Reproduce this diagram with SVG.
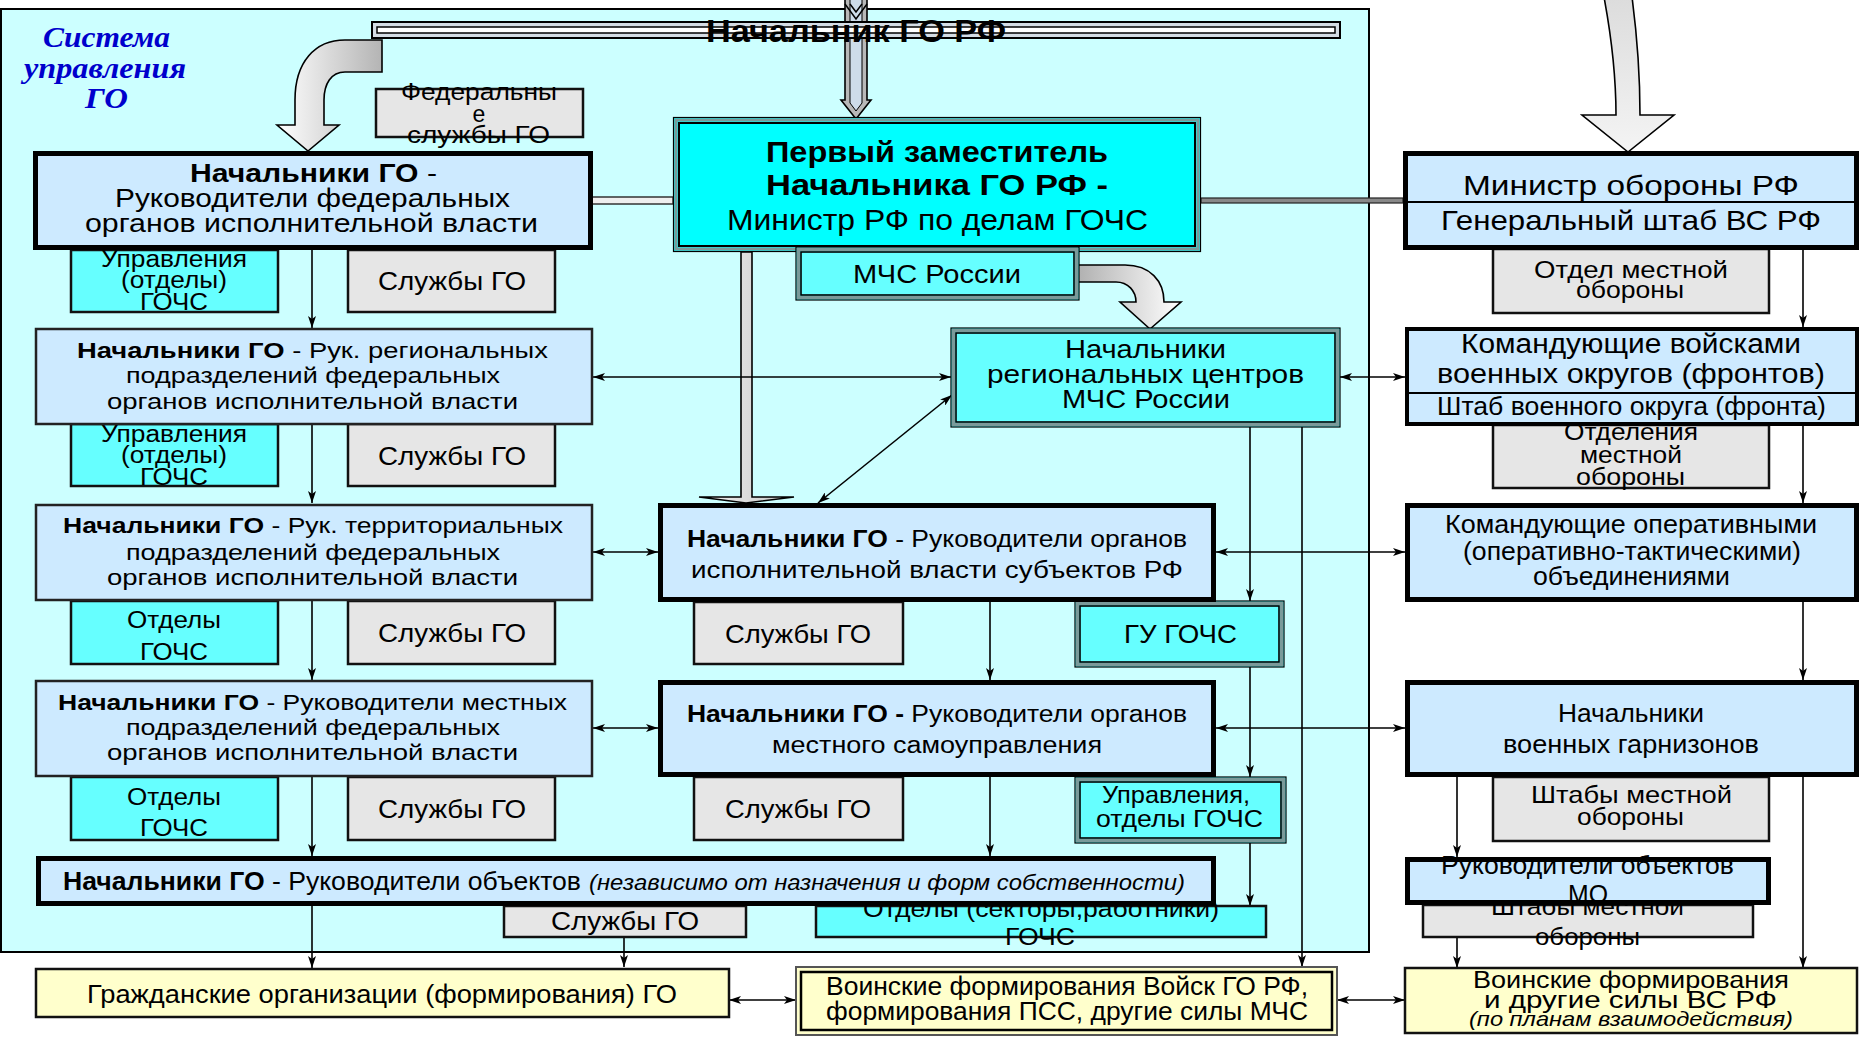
<svg xmlns="http://www.w3.org/2000/svg" width="1864" height="1038" viewBox="0 0 1864 1038" xml:space="preserve">
<style>
.t{font-family:"Liberation Sans",Arial,sans-serif;fill:#000}
.b{font-weight:bold}
.i{font-style:italic}
.sys{font-family:"Liberation Serif","Times New Roman",serif;font-weight:bold;font-style:italic;fill:#0000cc;font-size:30px}
.lb{fill:#cdeaff}
.thick{stroke:#000;stroke-width:5}
.thin{stroke:#222;stroke-width:2.5}
.gray{fill:#e6e6e6;stroke:#111;stroke-width:2.5}
.cy{fill:#66ffff;stroke:#111;stroke-width:2.5}
.cyd{fill:#66ffff;stroke:#000;stroke-width:1.2}
.mid{fill:none;stroke:#7a9a9a;stroke-width:3}
.inner{fill:none;stroke:#000;stroke-width:1.6}
.yel{fill:#ffffcc;stroke:#111;stroke-width:2.5}
.ln{stroke:#000;stroke-width:1.6;fill:none}
.one{marker-end:url(#ah)}
.two{marker-start:url(#ah);marker-end:url(#ah)}
.blk{stroke:#000;stroke-width:1.6}
</style>
<defs>
<marker id="ah" viewBox="0 0 12 8" refX="12" refY="4" markerWidth="12" markerHeight="8" markerUnits="userSpaceOnUse" orient="auto-start-reverse"><path d="M0,0 L12,4 L0,8 L3,4 Z" fill="#000"/></marker>
<linearGradient id="gL" x1="0" y1="0" x2="1" y2="0"><stop offset="0" stop-color="#ffffff"/><stop offset="1" stop-color="#b4b4b4"/></linearGradient>
<linearGradient id="gR" x1="0" y1="0" x2="1" y2="0"><stop offset="0" stop-color="#b0b0b0"/><stop offset="1" stop-color="#ffffff"/></linearGradient>
<linearGradient id="gV" x1="0" y1="0" x2="1" y2="0"><stop offset="0" stop-color="#f4f4f4"/><stop offset="1" stop-color="#c4c4c4"/></linearGradient>
<linearGradient id="gT" x1="0" y1="0" x2="0" y2="1"><stop offset="0" stop-color="#dcdcdc"/><stop offset="1" stop-color="#f4f4f4"/></linearGradient>
</defs>

<g id="panel"><rect x="1" y="9" width="1368" height="943" fill="#ccffff" stroke="#000" stroke-width="2"/></g>

<g id="system-title">
<text class="sys" x="43" y="47" textLength="127" lengthAdjust="spacingAndGlyphs">Система</text>
<text class="sys" x="24" y="78" textLength="162" lengthAdjust="spacingAndGlyphs">управления</text>
<text class="sys" x="85" y="108" textLength="43" lengthAdjust="spacingAndGlyphs">ГО</text>
</g>

<g id="connectors">
<path class="blk" fill="url(#gL)" d="M382,40 L345,40 C315,40 295,62 295,100 L295,125 L277,125 L308,151 L339,125 L324,125 L324,100 C324,84 331,72 345,72 L382,72 Z"/>
<path class="blk" fill="url(#gR)" d="M1077,265 L1125,265 C1150,265 1164,281 1164,302 L1181,302 L1150,329 L1120,302 L1136,302 C1136,291 1128,282 1116,282 L1077,282 Z"/>
<path class="blk" fill="url(#gT)" d="M1604,-3 C1612,40 1616,80 1616,115 L1582,115 L1628,152 L1674,115 L1640,115 C1640,75 1637,35 1632,-3 Z"/>
<path class="blk" fill="url(#gV)" d="M741,252 L741,497 L699,497 L746,503 L794,497 L752,497 L752,252 Z"/>
<path class="blk" fill="#b8b8b8" d="M845,-3 L845,100 L841,100 L856,119 L871,100 L867,100 L867,-3 Z"/>
<path stroke="#000" stroke-width="1" fill="#cddcea" d="M850,-3 L850,103 L856,111 L862,103 L862,-3 Z"/>
<path stroke="#000" stroke-width="1.5" fill="none" d="M845,4 L856,19 L867,4 M850,4 L856,12 L862,4"/>
<rect x="591" y="197" width="82" height="7" fill="#eeeeee" stroke="#333" stroke-width="1.5"/>
<rect x="1201" y="198" width="202" height="5" fill="#888" stroke="#222" stroke-width="1.2"/>
<line class="ln one" x1="312" y1="250" x2="312" y2="328"/>
<line class="ln one" x1="312" y1="425" x2="312" y2="503"/>
<line class="ln one" x1="312" y1="601" x2="312" y2="680"/>
<line class="ln one" x1="312" y1="777" x2="312" y2="856"/>
<line class="ln one" x1="312" y1="906" x2="312" y2="968"/>
<line class="ln one" x1="990" y1="602" x2="990" y2="680"/>
<line class="ln one" x1="990" y1="777" x2="990" y2="856"/>
<line class="ln one" x1="624" y1="937" x2="624" y2="967"/>
<line class="ln one" x1="1250" y1="427" x2="1250" y2="601"/>
<line class="ln one" x1="1250" y1="667" x2="1250" y2="777"/>
<line class="ln one" x1="1250" y1="843" x2="1250" y2="906"/>
<line class="ln one" x1="1302" y1="427" x2="1302" y2="967"/>
<line class="ln one" x1="1803" y1="250" x2="1803" y2="327"/>
<line class="ln one" x1="1803" y1="426" x2="1803" y2="503"/>
<line class="ln one" x1="1803" y1="602" x2="1803" y2="680"/>
<line class="ln one" x1="1803" y1="777" x2="1803" y2="968"/>
<line class="ln one" x1="1457" y1="777" x2="1457" y2="857"/>
<line class="ln one" x1="1457" y1="937" x2="1457" y2="968"/>
<line class="ln two" x1="593" y1="377" x2="951" y2="377"/>
<line class="ln two" x1="1340" y1="377" x2="1405" y2="377"/>
<line class="ln two" x1="593" y1="552" x2="658" y2="552"/>
<line class="ln two" x1="1216" y1="552" x2="1405" y2="552"/>
<line class="ln two" x1="593" y1="728" x2="658" y2="728"/>
<line class="ln two" x1="1216" y1="728" x2="1405" y2="728"/>
<line class="ln two" x1="729" y1="1000" x2="796" y2="1000"/>
<line class="ln two" x1="1337" y1="1000" x2="1405" y2="1000"/>
<line class="ln two" x1="818" y1="503" x2="952" y2="395"/>
</g>

<g id="chief-go-rf">
<rect x="372" y="22" width="968" height="16" fill="#d4dce4" stroke="#000" stroke-width="2"/>
<rect x="377" y="27" width="958" height="6" fill="#ffffff" stroke="#000" stroke-width="1.5"/>
<text class="t b" x="706" y="42" font-size="32" textLength="300" lengthAdjust="spacingAndGlyphs">Начальник ГО РФ</text>
</g>

<g id="fed-services">
<rect class="gray" x="376" y="89" width="207" height="48"/>
<text class="t" x="401" y="100" font-size="23" textLength="156" lengthAdjust="spacingAndGlyphs">Федеральны</text>
<text class="t" x="479" y="122" font-size="23" text-anchor="middle">е</text>
<text class="t" x="407" y="143" font-size="23" textLength="143" lengthAdjust="spacingAndGlyphs">службы  ГО</text>
</g>

<g id="upr1"><rect class="cy" x="71" y="250" width="207" height="62"/>
<text class="t" x="101" y="267" font-size="23" textLength="146" lengthAdjust="spacingAndGlyphs">Управления</text>
<text class="t" x="121" y="288" font-size="23" textLength="106" lengthAdjust="spacingAndGlyphs">(отделы)</text>
<text class="t" x="140" y="310" font-size="23" textLength="68" lengthAdjust="spacingAndGlyphs">ГОЧС</text></g>
<g id="sl1"><rect class="gray" x="348" y="250" width="207" height="62"/>
<text class="t" x="378" y="290" font-size="25" textLength="148" lengthAdjust="spacingAndGlyphs">Службы  ГО</text></g>

<g id="upr2"><rect class="cy" x="71" y="424" width="207" height="62"/>
<text class="t" x="101" y="442" font-size="23" textLength="146" lengthAdjust="spacingAndGlyphs">Управления</text>
<text class="t" x="121" y="463" font-size="23" textLength="106" lengthAdjust="spacingAndGlyphs">(отделы)</text>
<text class="t" x="140" y="485" font-size="23" textLength="68" lengthAdjust="spacingAndGlyphs">ГОЧС</text></g>
<g id="sl2"><rect class="gray" x="348" y="424" width="207" height="62"/>
<text class="t" x="378" y="465" font-size="25" textLength="148" lengthAdjust="spacingAndGlyphs">Службы  ГО</text></g>

<g id="otd3"><rect class="cy" x="71" y="601" width="207" height="63"/>
<text class="t" x="127" y="628" font-size="23" textLength="94" lengthAdjust="spacingAndGlyphs">Отделы</text>
<text class="t" x="140" y="660" font-size="23" textLength="68" lengthAdjust="spacingAndGlyphs">ГОЧС</text></g>
<g id="sl3"><rect class="gray" x="348" y="601" width="207" height="63"/>
<text class="t" x="378" y="642" font-size="25" textLength="148" lengthAdjust="spacingAndGlyphs">Службы  ГО</text></g>

<g id="otd4"><rect class="cy" x="71" y="777" width="207" height="63"/>
<text class="t" x="127" y="805" font-size="23" textLength="94" lengthAdjust="spacingAndGlyphs">Отделы</text>
<text class="t" x="140" y="836" font-size="23" textLength="68" lengthAdjust="spacingAndGlyphs">ГОЧС</text></g>
<g id="sl4"><rect class="gray" x="348" y="777" width="207" height="63"/>
<text class="t" x="378" y="818" font-size="25" textLength="148" lengthAdjust="spacingAndGlyphs">Службы  ГО</text></g>

<g id="sl5"><rect class="gray" x="504" y="906" width="242" height="31"/>
<text class="t" x="551" y="930" font-size="25" textLength="148" lengthAdjust="spacingAndGlyphs">Службы  ГО</text></g>
<g id="otd5"><rect class="cy" x="816" y="906" width="450" height="31"/>
<text class="t" x="863" y="917" font-size="23" textLength="356" lengthAdjust="spacingAndGlyphs">Отделы (секторы,работники)</text>
<text class="t" x="1005" y="945" font-size="23" textLength="70" lengthAdjust="spacingAndGlyphs">ГОЧС</text></g>

<g id="slm1"><rect class="gray" x="694" y="602" width="209" height="62"/>
<text class="t" x="725" y="643" font-size="25" textLength="146" lengthAdjust="spacingAndGlyphs">Службы  ГО</text></g>
<g id="slm2"><rect class="gray" x="694" y="777" width="209" height="63"/>
<text class="t" x="725" y="818" font-size="25" textLength="146" lengthAdjust="spacingAndGlyphs">Службы  ГО</text></g>

<g id="gu-gochs"><rect class="cyd" x="1075" y="601" width="209" height="66"/><rect class="mid" x="1077.5" y="603.5" width="204" height="61"/><rect class="inner" x="1080" y="606" width="199" height="56"/>
<text class="t" x="1124" y="643" font-size="25" textLength="113" lengthAdjust="spacingAndGlyphs">ГУ  ГОЧС</text></g>
<g id="upr-otd"><rect class="cyd" x="1075" y="777" width="211" height="66"/><rect class="mid" x="1077.5" y="779.5" width="206" height="61"/><rect class="inner" x="1080" y="782" width="201" height="56"/>
<text class="t" x="1102" y="803" font-size="24" textLength="148" lengthAdjust="spacingAndGlyphs">Управления,</text>
<text class="t" x="1096" y="827" font-size="24" textLength="167" lengthAdjust="spacingAndGlyphs">отделы ГОЧС</text></g>

<g id="otdel-mo"><rect class="gray" x="1493" y="249" width="276" height="64"/>
<text class="t" x="1534" y="278" font-size="24" textLength="194" lengthAdjust="spacingAndGlyphs">Отдел  местной</text>
<text class="t" x="1576" y="298" font-size="24" textLength="108" lengthAdjust="spacingAndGlyphs">обороны</text></g>
<g id="otdelenia-mo"><rect class="gray" x="1493" y="425" width="276" height="63"/>
<text class="t" x="1564" y="440" font-size="24" textLength="134" lengthAdjust="spacingAndGlyphs">Отделения</text>
<text class="t" x="1580" y="463" font-size="24" textLength="102" lengthAdjust="spacingAndGlyphs">местной</text>
<text class="t" x="1576" y="485" font-size="24" textLength="109" lengthAdjust="spacingAndGlyphs">обороны</text></g>
<g id="shtaby-mo"><rect class="gray" x="1493" y="777" width="276" height="64"/>
<text class="t" x="1531" y="803" font-size="24" textLength="201" lengthAdjust="spacingAndGlyphs">Штабы  местной</text>
<text class="t" x="1577" y="825" font-size="24" textLength="107" lengthAdjust="spacingAndGlyphs">обороны</text></g>
<g id="shtaby-mo2"><rect class="gray" x="1423" y="905" width="330" height="32"/>
<text class="t" x="1491" y="915" font-size="24" textLength="193" lengthAdjust="spacingAndGlyphs">Штабы местной</text>
<text class="t" x="1535" y="945" font-size="24" textLength="105" lengthAdjust="spacingAndGlyphs">обороны</text></g>

<g id="l1"><rect class="lb thick" x="35.5" y="153.5" width="555" height="94"/>
<text class="t" x="190" y="182" font-size="25" textLength="247" lengthAdjust="spacingAndGlyphs"><tspan class="b">Начальники  ГО</tspan> -</text>
<text class="t" x="115" y="207" font-size="25" textLength="395" lengthAdjust="spacingAndGlyphs">Руководители  федеральных</text>
<text class="t" x="85" y="232" font-size="25" textLength="453" lengthAdjust="spacingAndGlyphs">органов  исполнительной  власти</text></g>

<g id="l2"><rect class="lb thin" x="36" y="329" width="556" height="95"/>
<text class="t" x="77" y="358" font-size="22" textLength="471" lengthAdjust="spacingAndGlyphs"><tspan class="b">Начальники ГО</tspan>  -  Рук. региональных</text>
<text class="t" x="126" y="383" font-size="22" textLength="374" lengthAdjust="spacingAndGlyphs">подразделений  федеральных</text>
<text class="t" x="107" y="409" font-size="22" textLength="411" lengthAdjust="spacingAndGlyphs">органов  исполнительной  власти</text></g>

<g id="l3"><rect class="lb thin" x="36" y="505" width="556" height="95"/>
<text class="t" x="63" y="533" font-size="22" textLength="500" lengthAdjust="spacingAndGlyphs"><tspan class="b">Начальники ГО</tspan> - Рук. территориальных</text>
<text class="t" x="126" y="560" font-size="22" textLength="374" lengthAdjust="spacingAndGlyphs">подразделений  федеральных</text>
<text class="t" x="107" y="585" font-size="22" textLength="411" lengthAdjust="spacingAndGlyphs">органов  исполнительной  власти</text></g>

<g id="l4"><rect class="lb thin" x="36" y="681" width="556" height="95"/>
<text class="t" x="58" y="710" font-size="22" textLength="509" lengthAdjust="spacingAndGlyphs"><tspan class="b">Начальники ГО</tspan> - Руководители местных</text>
<text class="t" x="126" y="735" font-size="22" textLength="374" lengthAdjust="spacingAndGlyphs">подразделений  федеральных</text>
<text class="t" x="107" y="760" font-size="22" textLength="411" lengthAdjust="spacingAndGlyphs">органов  исполнительной  власти</text></g>

<g id="l5"><rect class="lb thick" x="38.5" y="858.5" width="1175" height="45"/>
<text class="t" x="63" y="890" font-size="25" textLength="518" lengthAdjust="spacingAndGlyphs"><tspan class="b">Начальники ГО</tspan> - Руководители объектов</text>
<text class="t i" x="589" y="890" font-size="22" textLength="596" lengthAdjust="spacingAndGlyphs">(независимо от назначения и форм собственности)</text></g>

<g id="civil"><rect class="yel" x="36" y="969" width="693" height="48"/>
<text class="t" x="87" y="1003" font-size="25" textLength="590" lengthAdjust="spacingAndGlyphs">Гражданские  организации  (формирования)  ГО</text></g>

<g id="first-deputy"><rect x="673.5" y="117.5" width="527" height="134" fill="#00ffff" stroke="#000" stroke-width="1.2"/>
<rect class="mid" x="676" y="120" width="522" height="129"/>
<rect x="679" y="123" width="516" height="123" fill="none" stroke="#000" stroke-width="2"/>
<text class="t b" x="766" y="162" font-size="30" textLength="342" lengthAdjust="spacingAndGlyphs">Первый  заместитель</text>
<text class="t b" x="766" y="195" font-size="30" textLength="342" lengthAdjust="spacingAndGlyphs">Начальника  ГО  РФ  -</text>
<text class="t" x="727" y="230" font-size="30" textLength="421" lengthAdjust="spacingAndGlyphs">Министр РФ по делам ГОЧС</text></g>

<g id="mchs"><rect class="cyd" x="796" y="247" width="283" height="53"/><rect class="mid" x="798.5" y="249.5" width="278" height="48"/><rect class="inner" x="801" y="252" width="273" height="43"/>
<text class="t" x="853" y="283" font-size="26" textLength="168" lengthAdjust="spacingAndGlyphs">МЧС России</text></g>

<g id="regional"><rect class="cyd" x="951" y="328" width="389" height="99"/><rect class="mid" x="953.5" y="330.5" width="384" height="94"/><rect class="inner" x="956" y="333" width="379" height="89"/>
<text class="t" x="1065" y="358" font-size="26" textLength="161" lengthAdjust="spacingAndGlyphs">Начальники</text>
<text class="t" x="987" y="383" font-size="26" textLength="317" lengthAdjust="spacingAndGlyphs">региональных  центров</text>
<text class="t" x="1062" y="408" font-size="26" textLength="168" lengthAdjust="spacingAndGlyphs">МЧС России</text></g>

<g id="subjects"><rect class="lb thick" x="660.5" y="505.5" width="553" height="94"/>
<text class="t" x="687" y="547" font-size="23" textLength="500" lengthAdjust="spacingAndGlyphs"><tspan class="b">Начальники ГО</tspan> - Руководители органов</text>
<text class="t" x="691" y="578" font-size="23" textLength="492" lengthAdjust="spacingAndGlyphs">исполнительной  власти  субъектов  РФ</text></g>

<g id="local"><rect class="lb thick" x="660.5" y="682.5" width="553" height="92"/>
<text class="t" x="687" y="722" font-size="23" textLength="500" lengthAdjust="spacingAndGlyphs"><tspan class="b">Начальники ГО -</tspan> Руководители органов</text>
<text class="t" x="772" y="753" font-size="23" textLength="330" lengthAdjust="spacingAndGlyphs">местного  самоуправления</text></g>

<g id="mchs-forces"><rect x="796" y="967" width="541" height="68" fill="#ffffcc" stroke="#555" stroke-width="2"/><rect x="801" y="972" width="531" height="58" fill="none" stroke="#000" stroke-width="2.5"/>
<text class="t" x="826" y="995" font-size="26" textLength="482" lengthAdjust="spacingAndGlyphs">Воинские формирования Войск ГО РФ,</text>
<text class="t" x="826" y="1020" font-size="26" textLength="482" lengthAdjust="spacingAndGlyphs">формирования ПСС, другие силы МЧС</text></g>

<g id="defense-minister"><rect class="lb thick" x="1405.5" y="153.5" width="451" height="94"/>
<line x1="1408" y1="202" x2="1855" y2="202" stroke="#000" stroke-width="2"/>
<text class="t" x="1463" y="195" font-size="28" textLength="336" lengthAdjust="spacingAndGlyphs">Министр  обороны  РФ</text>
<text class="t" x="1441" y="230" font-size="28" textLength="380" lengthAdjust="spacingAndGlyphs">Генеральный  штаб  ВС  РФ</text></g>

<g id="district"><rect class="lb" x="1407" y="329" width="450" height="95" stroke="#000" stroke-width="4"/>
<line x1="1409" y1="393" x2="1855" y2="393" stroke="#000" stroke-width="2"/>
<text class="t" x="1461" y="353" font-size="27" textLength="340" lengthAdjust="spacingAndGlyphs">Командующие  войсками</text>
<text class="t" x="1437" y="383" font-size="27" textLength="388" lengthAdjust="spacingAndGlyphs">военных  округов  (фронтов)</text>
<text class="t" x="1437" y="415" font-size="25" textLength="389" lengthAdjust="spacingAndGlyphs">Штаб военного округа (фронта)</text></g>

<g id="operational"><rect class="lb thick" x="1407.5" y="505.5" width="449" height="94"/>
<text class="t" x="1445" y="533" font-size="25" textLength="372" lengthAdjust="spacingAndGlyphs">Командующие  оперативными</text>
<text class="t" x="1463" y="560" font-size="25" textLength="338" lengthAdjust="spacingAndGlyphs">(оперативно-тактическими)</text>
<text class="t" x="1533" y="585" font-size="25" textLength="197" lengthAdjust="spacingAndGlyphs">объединениями</text></g>

<g id="garrisons"><rect class="lb thick" x="1407.5" y="682.5" width="449" height="92"/>
<text class="t" x="1558" y="722" font-size="25" textLength="146" lengthAdjust="spacingAndGlyphs">Начальники</text>
<text class="t" x="1503" y="753" font-size="25" textLength="256" lengthAdjust="spacingAndGlyphs">военных  гарнизонов</text></g>

<g id="mo-objects"><rect class="lb thick" x="1407.5" y="859.5" width="361" height="43"/>
<text class="t" x="1441" y="874" font-size="25" textLength="293" lengthAdjust="spacingAndGlyphs">Руководители объектов</text>
<text class="t" x="1568" y="903" font-size="25" textLength="40" lengthAdjust="spacingAndGlyphs">МО</text></g>

<g id="armed-forces"><rect class="yel" x="1405" y="968" width="452" height="65"/>
<text class="t" x="1473" y="988" font-size="24" textLength="316" lengthAdjust="spacingAndGlyphs">Воинские  формирования</text>
<text class="t" x="1484" y="1008" font-size="24" textLength="293" lengthAdjust="spacingAndGlyphs">и  другие  силы  ВС  РФ</text>
<text class="t i" x="1469" y="1026" font-size="21" textLength="324" lengthAdjust="spacingAndGlyphs">(по планам взаимодействия)</text></g>
</svg>
